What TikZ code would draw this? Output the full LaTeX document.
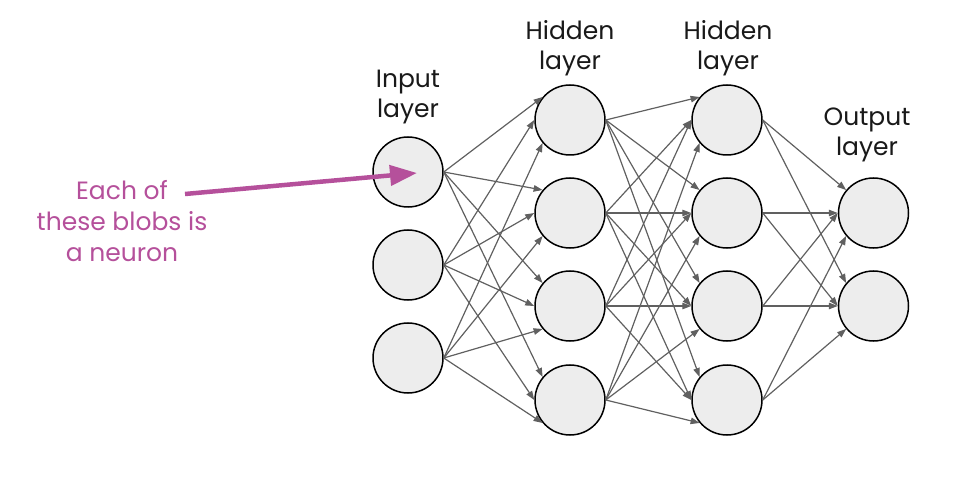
\documentclass[tikz,border=0pt]{standalone}
\usepackage{fontspec}
\setmainfont{Poppins}
\usetikzlibrary{arrows.meta}
\definecolor{blobfill}{HTML}{EDEDED}
\definecolor{edgegray}{HTML}{606060}
\definecolor{notepink}{HTML}{B5509B}
\tikzset{
  neuron/.style={circle, draw=black, line width=1.5pt, fill=blobfill, minimum size=70pt, inner sep=0pt},
  conn/.style={draw=edgegray, line width=1.2pt, -{Triangle[length=9pt,width=6.5pt]}},
  lbl/.style={font=\fontsize{25}{30}\selectfont, align=center, anchor=north, inner sep=0pt, text=black!90},
  notelbl/.style={font=\fontsize{25}{31}\selectfont, align=center, anchor=north, inner sep=0pt, text=notepink},
  notearrow/.style={draw=notepink, line width=4.5pt, -{Triangle[length=27pt,width=20pt]}}
}
\begin{document}
\begin{tikzpicture}[x=1pt,y=-1pt]
\useasboundingbox (0,0) rectangle (967,481);
% input layer
\node[neuron] (i1) at (408,172) {};
\node[neuron] (i2) at (408,265) {};
\node[neuron] (i3) at (408,358) {};
% hidden layer 1
\node[neuron] (h1) at (570,120) {};
\node[neuron] (h2) at (570,213) {};
\node[neuron] (h3) at (570,306) {};
\node[neuron] (h4) at (570,400) {};
% hidden layer 2
\node[neuron] (g1) at (727,120) {};
\node[neuron] (g2) at (727,213) {};
\node[neuron] (g3) at (727,306) {};
\node[neuron] (g4) at (727,400) {};
% output layer
\node[neuron] (o1) at (873.5,213) {};
\node[neuron] (o2) at (873.5,306) {};
% labels
\node[lbl] (linput) at (408,70) {Input\\layer};
\node[lbl] (lhid1) at (570,20) {Hidden\\layer};
\node[lbl] (lhid2) at (728,20) {Hidden\\layer};
\node[lbl] (lout) at (867,108) {Output\\layer};
% connections input -> hidden 1
\foreach \s/\a in {1/140,2/180,3/220}{
  \foreach \t in {1,2,3,4}{
    \draw[conn] (i\s.east) -- (h\t.\a);
  }
}
% hidden 1 -> hidden 2
\foreach \s/\a in {1/140,2/180,3/180,4/220}{
  \foreach \t in {1,2,3,4}{
    \draw[conn] (h\s.east) -- (g\t.\a);
  }
}
% hidden 2 -> output
\foreach \s/\a in {1/140,2/180,3/180,4/220}{
  \foreach \t in {1,2}{
    \draw[conn] (g\s.east) -- (o\t.\a);
  }
}
% note
\node[notelbl] (note) at (122,180) {Each of\\these blobs is\\a neuron};
\coordinate (ps) at (185,194);
\coordinate (pe) at (417,173);
\draw[notearrow] (ps) -- (pe);
\end{tikzpicture}
\end{document}
